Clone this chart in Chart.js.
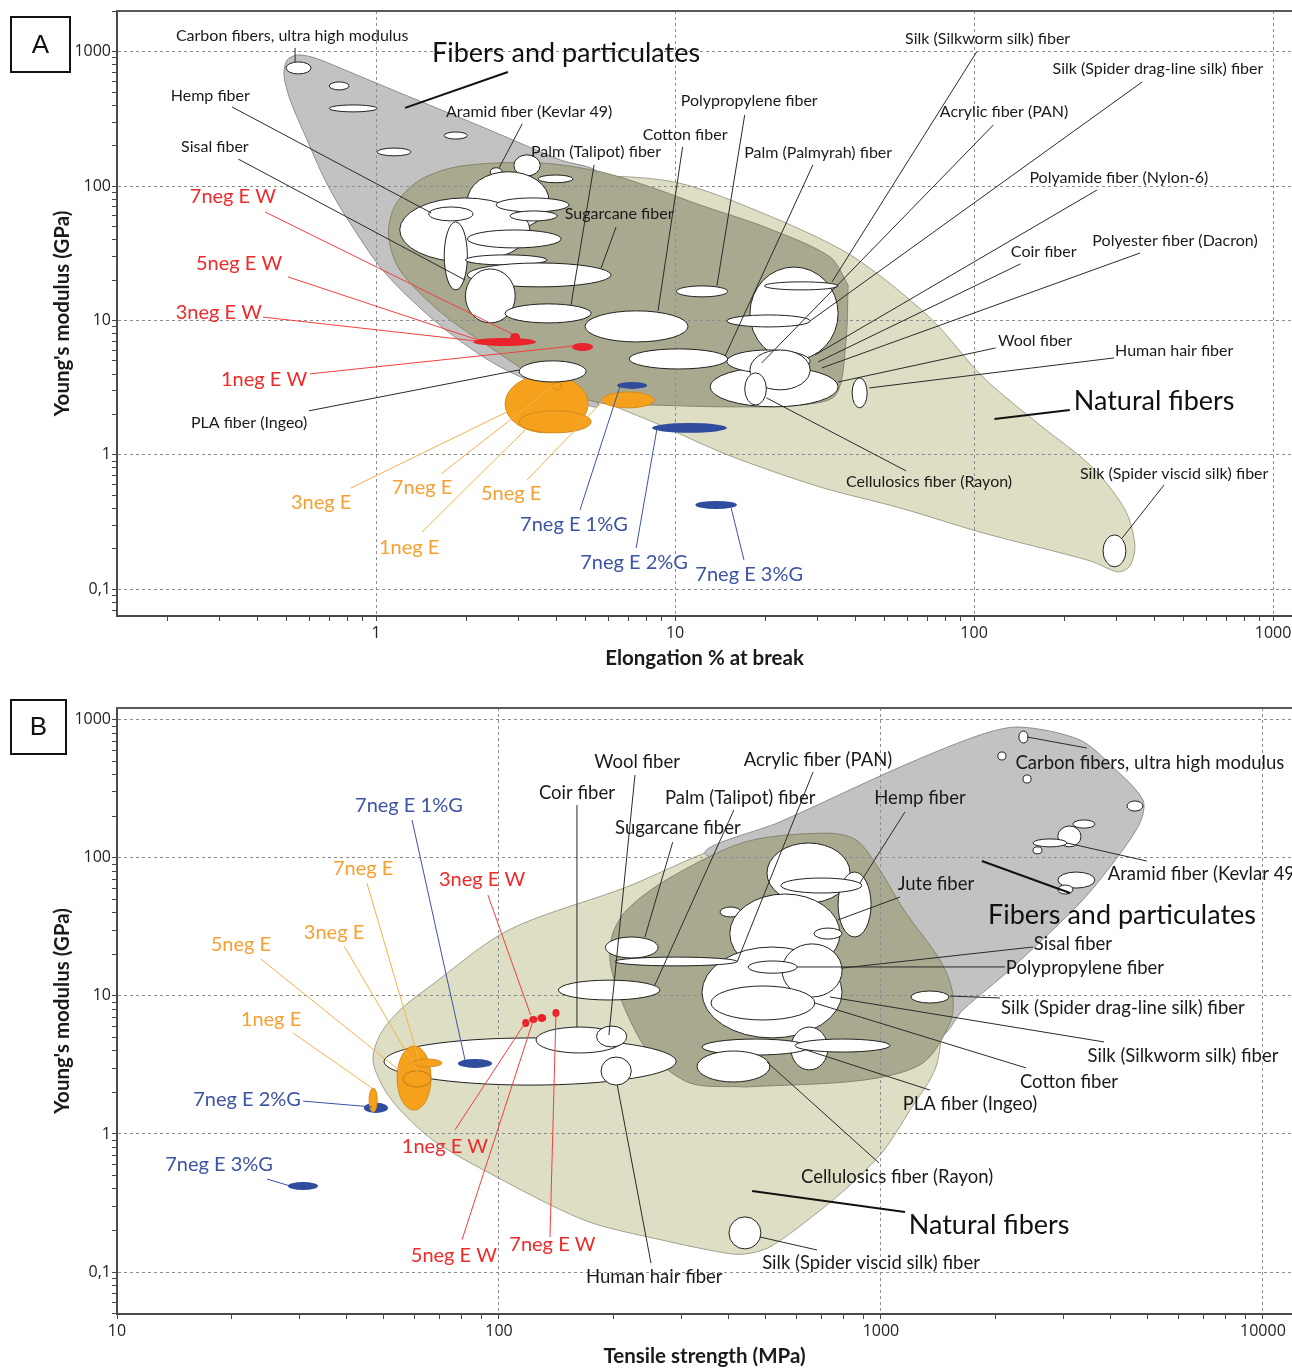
<!DOCTYPE html>
<html>
<head>
<meta charset="utf-8">
<script src="https://cdn.jsdelivr.net/npm/chart.js@4.4.1/dist/chart.umd.min.js"></script>
<style>
html, body { margin: 0; padding: 0; background: #fff; }
#wrap { position: relative; width: 1292px; height: 1371px; }
canvas { position: absolute; left: 0; }
#chartA { top: 0; }
#chartB { top: 690px; }
</style>
</head>
<body>
<div id="wrap">
<canvas id="chartA" width="1292" height="690"></canvas>
<canvas id="chartB" width="1292" height="681"></canvas>
</div>
<script>
// ---------- axis ticks ----------
var decades = [0.01, 0.1, 1, 10, 100, 1000, 10000];
var yTickValues = [0.1, 1, 10, 100, 1000];
var yTickLabels = ['0,1', '1', '10', '100', '1000'];
var aXTickValues = [1, 10, 100, 1000];
var aXTickLabels = ['1', '10', '100', '1000'];
var bXTickValues = [10, 100, 1000, 10000];
var bXTickLabels = ['10', '100', '1000', '10000'];

// ---------- panel A : Young's modulus vs elongation ----------
var aNaturalEnvelope = [
  [2.23,33.5],[3.03,110],[5.61,119],[10.2,106],[19.2,64.3],[38.5,30.8],[71.2,10.5],[107,3.80],
  [166,1.67],[248,0.814],[320,0.390],[345,0.214],[332,0.149],[303,0.135],[244,0.163],[107,0.263],
  [56.6,0.403],[30.5,0.578],[15.0,1.0],[8.91,1.67],[5.61,2.57],[3.54,4.29]
];
var aFibersEnvelope = [
  [6.06,47.2],[5.53,2.35],[4.67,2.57],[2.60,4.52],[1.662,8.96],[1.072,22.6],[0.794,59.0],[0.675,111],
  [0.588,221],[0.516,438],[0.492,672],[0.504,869],[0.548,946],[0.625,899],[0.758,757],[1.203,494],
  [2.228,280],[4.125,157],[5.614,123]
];
var aCoreEnvelope = [
  [37.9,18.4],[37.3,7.17],[34.5,2.80],[26.2,2.35],[15.2,2.28],[8.44,2.35],[5.61,2.44],[3.76,3.37],
  [2.48,6.04],[1.64,11.6],[1.20,23.8],[1.10,43.4],[1.16,72.5],[1.40,111],[1.92,141],[3.48,149],
  [5.61,128],[8.44,97.0],[12.1,72.5],[20.3,48.9],[33.0,29.7]
];
var aWhiteEllipses = [
  [0.50,0.606,684,840],[0.697,0.812,520,596],[0.697,1.008,357,402],[1.008,1.31,168,192],
  [1.69,2.02,224,253],[3.48,4.56,106,121],[2.41,2.64,119,137],[2.89,3.54,119,171],
  [2.02,3.79,47.2,128],[1.20,3.27,27.3,81.7],[1.50,2.11,55.1,70.0],[2.52,4.42,64.3,81.7],
  [2.81,4.03,55.1,65.4],[1.69,2.02,16.9,54.2],[2.02,4.16,34.7,47.2],[1.99,3.73,25.9,30.8],
  [2.02,6.11,17.8,26.8],[1.99,2.92,9.6,24.2],[2.70,5.24,9.6,13.3],[5.00,11.05,6.93,11.8],
  [10.1,15.0,15.0,18.1],[17.8,35.1,5.09,25.0],[19.9,35.1,16.9,19.4],[14.9,28.3,8.96,11.0],
  [7.02,15.0,4.36,6.15],[3.01,5.04,3.49,5.01],[13.1,35.1,2.28,4.52],[14.9,28.3,4.08,6.04],
  [17.8,28.3,3.05,6.04],[17.1,20.2,2.35,4.08],[39.1,43.9,2.24,3.74],[270,322,0.147,0.254]
];
var aRedEllipses = [[2.11,3.43,6.47,7.42],[2.81,3.03,6.93,8.09],[4.52,5.32,5.94,6.81]];
var aOrangeEllipses = [[2.70,5.12,1.46,3.94],[3.01,5.24,1.46,2.13],[3.91,4.16,3.05,3.49],[5.70,8.51,2.24,2.94]];
var aBlueEllipses = [[6.40,8.06,3.10,3.49],[8.38,14.9,1.46,1.73],[11.7,16.1,0.396,0.455]];

var aMaterialLabels = [
  ['Carbon fibers, ultra high modulus',0.524,1312],['Hemp fiber',0.279,469],['Sisal fiber',0.289,196],
  ['Aramid fiber (Kevlar 49)',3.25,357],['Palm (Talipot) fiber',5.44,180],['Cotton fiber',10.8,240],
  ['Polypropylene fiber',17.7,430],['Palm (Palmyrah) fiber',30.1,177],['Sugarcane fiber',6.50,62.1],
  ['Silk (Silkworm silk) fiber',111,1245],['Silk (Spider drag-line silk) fiber',412,745],
  ['Acrylic fiber (PAN)',126,357],['Polyamide fiber (Nylon-6)',305,115],['Coir fiber',171,32.4],
  ['Polyester fiber (Dacron)',470,39.1],['Wool fiber',160,7.05],['Human hair fiber',467,5.94],
  ['Cellulosics fiber (Rayon)',70.7,0.630],['Silk (Spider viscid silk) fiber',467,0.722],
  ['PLA fiber (Ingeo)',0.376,1.73]
];
var aFamilyLabels = [['Fibers and particulates',4.32,980],['Natural fibers',400,2.52]];
var aRedLabels = [['7neg E W',0.332,83.1],['5neg E W',0.348,26.4],['3neg E W',0.298,11.4],['1neg E W',0.422,3.61]];
var aOrangeLabels = [['3neg E',0.655,0.439],['7neg E',1.425,0.568],['1neg E',1.29,0.203],['5neg E',2.83,0.513]];
var aBlueLabels = [['7neg E 1%G',4.59,0.301],['7neg E 2%G',7.29,0.157],['7neg E 3%G',17.7,0.128]];

var aMaterialLeaders = [
  [0.536,1067,0.536,840],[0.330,388,1.53,63.2],[0.346,159,1.985,20.0],[3.08,290,2.58,137],
  [5.36,144,4.49,13.1],[10.6,196,8.77,11.8],[17.1,339,13.8,18.1],[28.9,144,14.7,5.45],
  [6.35,49.7,5.66,24.6],[102,997,33.5,19.4],[365,596,28.3,9.93],[116,285,19.5,4.84],
  [258,93.7,29.4,5.55],[143,26.4,30.1,4.92],[359,31.8,31.0,4.44],[118,6.25,35.1,3.49],
  [294,5.27,44.6,3.15],[59.3,0.760,20.2,2.66],[432,0.598,313,0.241],[0.597,2.13,3.01,4.29]
];
var aFamilyLeaders = [[2.76,707,1.25,382],[117,1.85,209,2.16]];
var aRedLeaders = [[0.425,64.3,2.85,7.95],[0.508,21.1,2.19,7.17],[0.419,10.6,2.16,7.05],[0.601,4.01,4.59,6.47]];
var aOrangeLeaders = [[0.825,0.568,2.74,2.09],[1.65,0.722,4.00,3.37],[1.425,0.267,3.15,1.535],[3.20,0.652,5.74,2.52]];
var aBlueLeaders = [[4.81,0.390,6.55,3.26],[7.41,0.203,8.71,1.59],[17.0,0.1655,15.4,0.403]];

// ---------- panel B : Young's modulus vs tensile strength ----------
var bNaturalEnvelope = [
  [2049,69.1],[1610,18.2],[1479,9.34],[1393,3.06],[1191,1.49],[1019,0.766],[830,0.427],[680,0.268],
  [512,0.152],[440,0.135],[391,0.1375],[266,0.171],[167,0.238],[89.1,0.567],[67.1,0.905],[55.1,1.49],
  [49.7,2.19],[46.8,3.43],[48.8,5.21],[55.1,7.91],[65.6,11.6],[106,30.0],[216,61.5],[363,114],
  [613,173],[1122,262]
];
var bFibersEnvelope = [
  [993,18.2],[482,75.1],[346,110],[544,182],[1122,454],[1816,775],[2310,885],[3319,713],
  [4050,454],[4850,262],[4764,179],[4050,91.7],[3319,47.1],[2216,16.2],[1639,7.91],[1427,5.21]
];
var bCoreEnvelope = [
  [440,2.19],[316,2.34],[248,3.86],[216,7.52],[196,16.7],[198,27.6],[216,41.9],[274,69.1],
  [440,130],[710,151],[860,135],[993,81.6],[1148,41.9],[1427,18.2],[1535,11.0],[1525,6.69],
  [1288,3.27],[903,2.46]
];
var bWhiteEllipses = [
  [2296,2427,678,828],[2023,2124,511,584],[2355,2472,348,398],[4406,4850,218,258],
  [3181,3631,164,188],[2904,3339,120,170],[2500,3069,120,137],[2500,2640,107,120],
  [2904,3631,60.4,78.9],[2904,3181,54.7,63.5],
  [379,430,37.3,44.0],[503,830,47.1,128],[772,942,26.7,78.9],[547,891,55.6,71.4],
  [402,781,14.6,54.7],[668,791,25.8,31.0],[340,791,4.96,22.6],[551,791,9.82,23.8],
  [449,603,14.6,17.9],[359,671,6.69,11.8],[581,726,2.91,5.95],[340,648,3.73,4.87],
  [596,1056,3.92,4.87],[330,512,2.38,3.99],[1198,1507,8.88,10.85],[190,261,18.8,26.7],
  [201,420,16.5,19.1],[143,264,9.34,13.0],[50.0,291,2.26,4.96],[125,211,3.86,5.95],
  [180,216,4.27,6.05],[185,222,2.26,3.61],[400,485,0.147,0.251]
];
var bBlueEllipses = [[78.1,95.9,3.01,3.49],[44.3,51.2,1.42,1.68],[28.0,33.6,0.393,0.449]];
var bOrangeEllipses = [[54.1,66.4,1.49,4.34],[59.2,70.9,3.06,3.49],[45.7,48.0,1.44,2.15]];
var bOrangeRings = [[56.1,66.4,2.19,2.86]];
var bRedEllipses = [[115,120,5.95,6.80],[120,126,6.36,7.15],[126,133,6.47,7.39],[138,144,7.03,8.04]];

var bMaterialLabels = [
  ['Wool fiber',230,494],['Coir fiber',160,294],['Acrylic fiber (PAN)',684,511],
  ['Palm (Talipot) fiber',428,271],['Sugarcane fiber',294,164],['Hemp fiber',1265,271],
  ['Jute fiber',1393,64.6],['Carbon fibers, ultra high modulus',5058,486],
  ['Aramid fiber (Kevlar 49)',7006,76.3],['Sisal fiber',3181,23.8],['Polypropylene fiber',3420,15.9],
  ['Silk (Spider drag-line silk) fiber',4300,8.17],['Silk (Silkworm silk) fiber',6175,3.67],
  ['Cotton fiber',3105,2.38],['PLA fiber (Ingeo)',1710,1.65],['Cellulosics fiber (Rayon)',1102,0.489],
  ['Silk (Spider viscid silk) fiber',942,0.116],['Human hair fiber',255,0.0922]
];
var bFamilyLabels = [['Fibers and particulates',4276,38.5],['Natural fibers',1919,0.219]];
var bRedLabels = [['3neg E W',90.3,69.1],['1neg E W',72.2,0.805],['5neg E W',76.2,0.131],['7neg E W',138,0.157]];
var bOrangeLabels = [['7neg E',44.1,83.0],['3neg E',37.0,29.0],['5neg E',21.1,23.4],['1neg E',25.3,6.69]];
var bBlueLabels = [['7neg E 1%G',58.1,241],['7neg E 2%G',21.9,1.79],['7neg E 3%G',18.5,0.596]];

var bMaterialLeaders = [
  [227,398,194,5.21],[160,241,160,5.95],[664,418,420,17.6],[412,222,256,12.0],[285,130,241,26.7],
  [1156,215,881,65.7],[1122,52.0,772,35.5],[2410,750,3459,624],[4966,94.8,3069,128],
  [2500,22.6,791,15.9],[2111,16.2,603,16.2],[2049,9.66,1516,9.98],[3837,4.64,735,9.82],
  [2397,3.01,671,8.88],[1343,2.08,637,4.06],[988,0.617,503,3.32],[680,0.1445,482,0.1795],
  [250,0.116,204,2.26]
];
var bFamilyLeaders = [[1837,94.8,3126,55.6],[460,0.387,1156,0.272]];
var bRedLeaders = [[93.5,53.8,121,7.27],[76.7,1.07,117,6.36],[80.0,0.171,123,6.69],[136,0.1795,141,7.52]];
var bOrangeLeaders = [[45.1,65.7,61.7,3.43],[39.3,23.0,61.4,2.81],[23.8,18.5,56.8,2.67],[28.9,5.39,46.5,2.15]];
var bBlueLeaders = [[59.2,188,81.5,3.43],[30.7,1.73,46.5,1.57],[24.7,0.472,28.4,0.420]];

// ---------- helpers ----------
var RED = '#e8232b', ORANGE = '#f5a11c', BLUE = '#2f4c9e';

function envelope(pts, fill, line) {
  var data = pts.map(function (p) { return {x: p[0], y: p[1]}; });
  data.push({x: pts[0][0], y: pts[0][1]});
  return {
    data: data, showLine: true, fill: 'shape', tension: 0.3,
    backgroundColor: fill, borderColor: line, borderWidth: 1,
    pointRadius: 0, pointHoverRadius: 0
  };
}

function minorTicks(min, max) {
  var out = [];
  decades.forEach(function (d) {
    for (var m = 1; m <= 9; m++) {
      var v = d * m;
      if (v >= min && v <= max) out.push(v);
    }
  });
  return out;
}

function labelFor(values, labels, v) {
  for (var i = 0; i < values.length; i++) {
    if (Math.abs(values[i] - v) / values[i] < 1e-6) return labels[i];
  }
  return '';
}

function logAxis(o) {
  return {
    type: 'logarithmic',
    position: o.position,
    min: o.min, max: o.max,
    afterBuildTicks: function (scale) {
      scale.ticks = minorTicks(scale.min, scale.max).map(function (v) { return {value: v}; });
    },
    afterFit: function (scale) {
      if (o.position === 'bottom') scale.height = o.size; else scale.width = o.size;
      scale.paddingLeft = 0; scale.paddingRight = 0; scale.paddingTop = 0; scale.paddingBottom = 0;
    },
    ticks: {
      autoSkip: false, maxRotation: 0, minRotation: 0, padding: o.tickPad,
      color: '#222', font: {family: 'Open Sans', size: 16},
      callback: function (v) { return labelFor(o.values, o.labels, v); }
    },
    grid: {
      z: 1, lineWidth: 1, tickLength: 5, tickWidth: 1, tickColor: '#444',
      color: function (c) {
        return c.tick && labelFor(o.values, o.labels, c.tick.value) !== '' ? '#8d8d8d' : 'rgba(0,0,0,0)';
      }
    },
    border: {display: true, color: '#4a4a4a', width: 2, dash: [3, 3], z: 2},
    title: {
      display: true, text: o.title, color: '#1a1a1a',
      font: {family: 'Lato', size: 20.5, weight: 'bold'},
      padding: o.titlePad
    }
  };
}

function overlay(spec) {
  return {
    id: 'overlay_' + spec.letter,
    afterDraw: function (chart) {
      var ctx = chart.ctx, xs = chart.scales.x, ys = chart.scales.y, a = chart.chartArea;
      var px = function (v) { return xs.getPixelForValue(v); };
      var py = function (v) { return ys.getPixelForValue(v); };
      ctx.save();
      ctx.beginPath();
      ctx.rect(a.left, a.top, a.right - a.left, a.bottom - a.top);
      ctx.clip();
      spec.ellipses.forEach(function (g) {
        g.items.forEach(function (e) {
          var x1 = px(e[0]), x2 = px(e[1]), y1 = py(e[3]), y2 = py(e[2]);
          ctx.beginPath();
          ctx.ellipse((x1 + x2) / 2, (y1 + y2) / 2, Math.abs(x2 - x1) / 2, Math.abs(y2 - y1) / 2, 0, 0, Math.PI * 2);
          if (g.fill) { ctx.fillStyle = g.fill; ctx.fill(); }
          if (g.stroke) { ctx.strokeStyle = g.stroke; ctx.lineWidth = g.width || 1; ctx.stroke(); }
        });
      });
      spec.leaders.forEach(function (g) {
        ctx.strokeStyle = g.color; ctx.lineWidth = g.width;
        g.items.forEach(function (l) {
          ctx.beginPath();
          ctx.moveTo(px(l[0]), py(l[1]));
          ctx.lineTo(px(l[2]), py(l[3]));
          ctx.stroke();
        });
      });
      ctx.restore();

      ctx.save();
      ctx.textAlign = 'center';
      ctx.textBaseline = 'middle';
      spec.labels.forEach(function (g) {
        ctx.font = g.font; ctx.fillStyle = g.color;
        g.items.forEach(function (t) { ctx.fillText(t[0], px(t[1]), py(t[2])); });
      });
      // plot frame top edge
      ctx.strokeStyle = '#5a5a5a'; ctx.lineWidth = 2;
      ctx.beginPath(); ctx.moveTo(a.left, a.top); ctx.lineTo(a.right, a.top); ctx.stroke();
      // panel letter box
      var b = spec.box;
      ctx.strokeStyle = '#111'; ctx.lineWidth = 2;
      ctx.strokeRect(b[0], b[1], b[2], b[3]);
      ctx.fillStyle = '#111'; ctx.font = '26px "Liberation Sans"';
      ctx.fillText(spec.letter, b[0] + b[2] / 2, b[1] + b[3] / 2 + 1);
      ctx.restore();
    }
  };
}

// Chart.js paints dataset 0 last, so the darkest (core) envelope goes first
function makeChart(id, env, axes, spec, padTop) {
  return new Chart(document.getElementById(id), {
    type: 'scatter',
    data: {
      datasets: [
        envelope(env[2], '#a9a98f', '#85856d'),
        envelope(env[1], '#c2c2c2', '#8e8e8e'),
        envelope(env[0], '#dedec4', '#a0a08c')
      ]
    },
    options: {
      responsive: false,
      animation: false,
      events: [],
      layout: {padding: {top: padTop, left: 0, right: 0, bottom: 0}},
      plugins: {legend: {display: false}, tooltip: {enabled: false}},
      scales: {x: axes.x, y: axes.y}
    },
    plugins: [overlay(spec)]
  });
}

var blackFontA = '16px Lato', blackFontB = '18.5px Lato', bigFont = '27px Lato', colorFont = '20px Lato';

var chartA = makeChart('chartA', [aNaturalEnvelope, aFibersEnvelope, aCoreEnvelope], {
  x: logAxis({position: 'bottom', min: 0.136, max: 1157, values: aXTickValues, labels: aXTickLabels,
    title: 'Elongation % at break', size: 74, tickPad: 3, titlePad: {top: 0, bottom: 19}}),
  y: logAxis({position: 'left', min: 0.0633, max: 2010, values: yTickValues, labels: yTickLabels,
    title: "Young's modulus (GPa)", size: 117, tickPad: 1, titlePad: {top: 50, bottom: 0}})
}, {
  letter: 'A', box: [11, 17, 59, 55],
  ellipses: [
    {items: aOrangeEllipses, fill: ORANGE, stroke: '#d48c1c', width: 1},
    {items: aWhiteEllipses, fill: '#ffffff', stroke: '#222', width: 1},
    {items: aRedEllipses, fill: RED},
    {items: aBlueEllipses, fill: BLUE}
  ],
  leaders: [
    {items: aMaterialLeaders, color: '#2a2a2a', width: 1},
    {items: aFamilyLeaders, color: '#111', width: 2},
    {items: aRedLeaders, color: '#f04040', width: 1},
    {items: aOrangeLeaders, color: '#f7b04a', width: 1},
    {items: aBlueLeaders, color: '#3d53a3', width: 1}
  ],
  labels: [
    {items: aMaterialLabels, font: blackFontA, color: '#1a1a1a'},
    {items: aFamilyLabels, font: bigFont, color: '#111'},
    {items: aRedLabels, font: colorFont, color: '#ee2a2a'},
    {items: aOrangeLabels, font: colorFont, color: '#f6a032'},
    {items: aBlueLabels, font: colorFont, color: '#3d53a3'}
  ]
}, 11);

var chartB = makeChart('chartB', [bNaturalEnvelope, bFibersEnvelope, bCoreEnvelope], {
  x: logAxis({position: 'bottom', min: 10, max: 11914, values: bXTickValues, labels: bXTickLabels,
    title: 'Tensile strength (MPa)', size: 57, tickPad: 3, titlePad: {top: 0, bottom: 2}}),
  y: logAxis({position: 'left', min: 0.0497, max: 1216, values: yTickValues, labels: yTickLabels,
    title: "Young's modulus (GPa)", size: 117, tickPad: 1, titlePad: {top: 50, bottom: 0}})
}, {
  letter: 'B', box: [11, 10, 55, 54],
  ellipses: [
    {items: bWhiteEllipses, fill: '#ffffff', stroke: '#222', width: 1},
    {items: bBlueEllipses, fill: BLUE},
    {items: bOrangeEllipses, fill: ORANGE, stroke: '#d48c1c', width: 1},
    {items: bOrangeRings, stroke: '#c98418', width: 1.2},
    {items: bRedEllipses, fill: RED}
  ],
  leaders: [
    {items: bMaterialLeaders, color: '#2a2a2a', width: 1},
    {items: bFamilyLeaders, color: '#111', width: 2},
    {items: bRedLeaders, color: '#f04040', width: 1},
    {items: bOrangeLeaders, color: '#f7b04a', width: 1},
    {items: bBlueLeaders, color: '#3d53a3', width: 1}
  ],
  labels: [
    {items: bMaterialLabels, font: blackFontB, color: '#1a1a1a'},
    {items: bFamilyLabels, font: bigFont, color: '#111'},
    {items: bRedLabels, font: colorFont, color: '#ee2a2a'},
    {items: bOrangeLabels, font: colorFont, color: '#f6a032'},
    {items: bBlueLabels, font: colorFont, color: '#3d53a3'}
  ]
}, 18);
</script>
</body>
</html>
